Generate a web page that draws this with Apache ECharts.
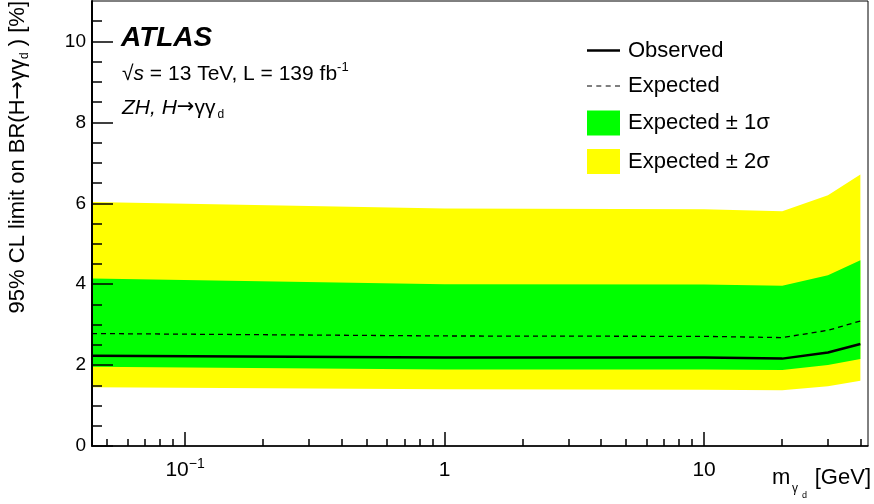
<!DOCTYPE html>
<html><head><meta charset="utf-8">
<script src="https://cdn.jsdelivr.net/npm/echarts@6/dist/echarts.min.js"></script>
<style>html,body{margin:0;padding:0;background:#fff}#c{width:874px;height:504px}</style>
</head><body><div id="c"></div>
<script>
// ---- data ----
const masses   = [0.0438, 1, 10, 20, 30, 40];
const observed = [2.23, 2.19, 2.19, 2.16, 2.31, 2.52];
const expected = [2.78, 2.72, 2.71, 2.68, 2.86, 3.09];
const plus1    = [4.14, 4.00, 3.99, 3.96, 4.22, 4.59];
const minus1   = [1.96, 1.89, 1.89, 1.88, 2.00, 2.15];
const plus2    = [6.03, 5.87, 5.85, 5.80, 6.20, 6.71];
const minus2   = [1.45, 1.40, 1.39, 1.38, 1.48, 1.61];

const xMajorTicks = [0.1, 1, 10];
const xMinorTicks = [0.05,0.06,0.07,0.08,0.09,0.2,0.3,0.4,0.5,0.6,0.7,0.8,0.9,2,3,4,5,6,7,8,9,20,30,40];
const yMajorTicks = [0, 2, 4, 6, 8, 10];
const yMinorTicks = [0.5,1,1.5,2.5,3,3.5,4.5,5,5.5,6.5,7,7.5,8.5,9,9.5,10.5];

const FONT = '"Liberation Sans", Arial, Helvetica, sans-serif';
const pairs = ys => masses.map((m, i) => [m, ys[i]]);

const chart = echarts.init(document.getElementById('c'), null, {renderer: 'canvas'});

const axisCommon = {
  type: 'log', logBase: 10, min: 0.0438, max: 42.8,
  splitLine: {show: false}, z: 10
};
const yCommon = {type: 'value', min: 0, max: 11, splitLine: {show: false}, z: 10};

// Band drawn as one polygon through the axes' own coordinate mapping
function bandSeries(name, lo, hi, color, z) {
  return {
    name, type: 'custom', z, color, itemStyle: {color},
    data: masses.map((m, i) => [m, lo[i], hi[i]]),
    encode: {x: 0, y: [1, 2]},
    clip: true, silent: true, animation: false,
    renderItem: function (params, api) {
      if (params.dataIndexInside !== 0) return null;
      const n = params.dataInsideLength;
      const top = [], bot = [];
      for (let k = 0; k < n; k++) {
        top.push(api.coord([api.value(0, k), api.value(2, k)]));
        bot.push(api.coord([api.value(0, k), api.value(1, k)]));
      }
      return {type: 'polygon', shape: {points: top.concat(bot.reverse())}, style: {fill: color, stroke: null}};
    }
  };
}

chart.setOption({
  animation: false,
  grid: {left: 92, right: 6, top: 1, bottom: 58, show: true, borderColor: '#000', borderWidth: 1, backgroundColor: 'transparent'},
  xAxis: [
    Object.assign({}, axisCommon, {
      position: 'bottom',
      axisLine: {show: true, lineStyle: {color: '#000', width: 1.5}},
      axisTick: {show: true, inside: true, length: 14, customValues: xMajorTicks, lineStyle: {color: '#000', width: 1.5}},
      axisLabel: {
        show: true, customValues: xMajorTicks, margin: 11, color: '#000',
        formatter: v => (Math.abs(v - 0.1) < 1e-9 ? '{b|10}{s|−1}' : '{b|' + Math.round(v) + '}'),
        rich: {
          b: {fontSize: 21, fontFamily: FONT, color: '#000', lineHeight: 24, verticalAlign: 'bottom'},
          s: {fontSize: 14, fontFamily: FONT, color: '#000', lineHeight: 14, verticalAlign: 'top'}
        }
      }
    }),
    Object.assign({}, axisCommon, {
      position: 'bottom',
      axisLine: {show: false},
      axisTick: {show: true, inside: true, length: 7, customValues: xMinorTicks, lineStyle: {color: '#000', width: 1.5}},
      axisLabel: {show: false}
    })
  ],
  yAxis: [
    Object.assign({}, yCommon, {
      position: 'left',
      axisLine: {show: true, lineStyle: {color: '#000', width: 2}},
      axisTick: {show: true, inside: true, length: 21, customValues: yMajorTicks, lineStyle: {color: '#000', width: 1.5}},
      axisLabel: {show: true, customValues: yMajorTicks, margin: 6, color: '#000', fontSize: 19, fontFamily: FONT}
    }),
    Object.assign({}, yCommon, {
      position: 'left',
      axisLine: {show: false},
      axisTick: {show: true, inside: true, length: 10, customValues: yMinorTicks, lineStyle: {color: '#000', width: 1.5}},
      axisLabel: {show: false}
    })
  ],
  legend: {
    orient: 'vertical', left: 582, top: 34.5,
    itemWidth: 33, itemHeight: 25, itemGap: 13.5,
    selectedMode: false, symbolKeepAspect: true,
    textStyle: {fontSize: 22, fontFamily: FONT, color: '#000', padding: [0, 0, 0, 3]},
    data: [
      {name: 'Observed', icon: 'path://M0,0H33V2.5H0Z', itemStyle: {color: '#000', borderWidth: 0}},
      {name: 'Expected', icon: 'path://M0,0H5V1.2H0Z M9.3,0H14.3V1.2H9.3Z M18.7,0H23.7V1.2H18.7Z M28,0H33V1.2H28Z', itemStyle: {color: '#000', borderWidth: 0}},
      {name: 'Expected ± 1σ', icon: 'rect', itemStyle: {color: '#00ff00', borderWidth: 0}},
      {name: 'Expected ± 2σ', icon: 'rect', itemStyle: {color: '#ffff00', borderWidth: 0}}
    ]
  },
  series: [
    bandSeries('Expected ± 2σ', minus2, plus2, '#ffff00', 1),
    bandSeries('Expected ± 1σ', minus1, plus1, '#00ff00', 2),
    {
      name: 'Expected', type: 'line', data: pairs(expected), symbol: 'none', z: 5,
      color: '#000', lineStyle: {color: '#000', width: 1.3, type: [5, 4]}
    },
    {
      name: 'Observed', type: 'line', data: pairs(observed), symbol: 'none', z: 6,
      color: '#000', lineStyle: {color: '#000', width: 2.5}
    }
  ],
  graphic: [
    {type: 'text', left: 121, top: 24, z: 20,
      style: {text: 'ATLAS', font: 'italic bold 28px ' + FONT, fill: '#000'}},
    {type: 'text', x: 122, y: 74, z: 20,
      style: {
        text: '{n|√}{i|s}{n| = 13 TeV, L = 139 fb}{p|-1}',
        verticalAlign: 'middle',
        rich: {
          n: {fontSize: 21, fontFamily: FONT, fill: '#000', lineHeight: 26, verticalAlign: 'middle'},
          i: {fontSize: 21, fontFamily: FONT, fontStyle: 'italic', fill: '#000', lineHeight: 26, verticalAlign: 'middle'},
          p: {fontSize: 13, fontFamily: FONT, fill: '#000', lineHeight: 13, verticalAlign: 'top'}
        }
      }},
    {type: 'text', x: 122, y: 108, z: 20,
      style: {
        text: '{i|ZH, H}{a|→}{g|γγ}{s|d}',
        verticalAlign: 'middle',
        rich: {
          i: {fontSize: 21, fontFamily: FONT, fontStyle: 'italic', fill: '#000', lineHeight: 26, verticalAlign: 'middle'},
          a: {fontSize: 21, fontFamily: '"DejaVu Sans", sans-serif', fill: '#000', lineHeight: 26, verticalAlign: 'middle'},
          g: {fontSize: 21, fontFamily: FONT, fill: '#000', lineHeight: 26, verticalAlign: 'middle'},
          s: {fontSize: 12, fontFamily: FONT, fill: '#000', lineHeight: 12, verticalAlign: 'bottom', padding: [0, 0, 0, 2]}
        }
      }},
    // x-axis title pieces
    {type: 'text', x: 772, y: 478, z: 20,
      style: {text: 'm', fontSize: 22, fontFamily: FONT, fill: '#000', verticalAlign: 'middle'}},
    {type: 'text', x: 792, y: 489, z: 20,
      style: {text: 'γ', fontSize: 12, fontFamily: FONT, fill: '#000', verticalAlign: 'middle'}},
    {type: 'text', x: 802, y: 496, z: 20,
      style: {text: 'd', fontSize: 9, fontFamily: FONT, fill: '#000', verticalAlign: 'middle'}},
    {type: 'text', x: 871, y: 478, z: 20,
      style: {text: '[GeV]', fontSize: 22, fontFamily: FONT, fill: '#000', align: 'right', verticalAlign: 'middle'}},
    {type: 'text', x: 18, y: 1, rotation: Math.PI / 2, z: 20,
      style: {
        text: '{n|95% CL limit on BR(H}{a|→}{n|γγ}{s|d}{n| ) [%]}',
        align: 'right', verticalAlign: 'middle',
        rich: {
          n: {fontSize: 22, fontFamily: FONT, fill: '#000', lineHeight: 26, verticalAlign: 'middle'},
          a: {fontSize: 22, fontFamily: '"DejaVu Sans", sans-serif', fill: '#000', lineHeight: 26, verticalAlign: 'middle'},
          s: {fontSize: 12, fontFamily: FONT, fill: '#000', lineHeight: 12, verticalAlign: 'bottom'}
        }
      }}
  ]
});
</script>
</body></html>
